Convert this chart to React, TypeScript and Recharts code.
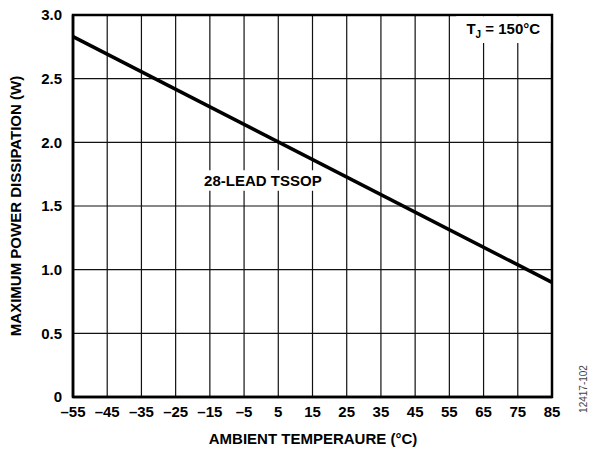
import { LineChart, Line, XAxis, YAxis, CartesianGrid, ReferenceArea } from "recharts";

// ambient temperature (°C) and max power dissipation (W)
const temps = [-55, 85];
const power = [2.83, 0.9];

const xTicks = [-55, -45, -35, -25, -15, -5, 5, 15, 25, 35, 45, 55, 65, 75, 85];
const yTicks = [0, 0.5, 1.0, 1.5, 2.0, 2.5, 3.0];

const data = temps.map((t, i) => ({ t, p: power[i] }));

const font = "'Liberation Sans', Arial, sans-serif";
const fs = 15;

const fmtX = (v: number) => (v < 0 ? "\u2013" + Math.abs(v) : String(v));
const fmtY = (v: number) => (v === 0 ? "0" : v.toFixed(1));

function YTitle() {
  return (
    <text
      transform="translate(17, 206) rotate(-90)"
      textAnchor="middle"
      dominantBaseline="middle"
      fontFamily={font}
      fontWeight="bold"
      fontSize={fs}
      fill="#000"
    >
      MAXIMUM POWER DISSIPATION (W)
    </text>
  );
}

function XTitle() {
  return (
    <g>
      <text
        x={313}
        y={444}
        textAnchor="middle"
        fontFamily={font}
        fontWeight="bold"
        fontSize={fs}
        fill="#000"
      >
        AMBIENT TEMPERAURE (°C)
      </text>
      <text
        transform="translate(587, 389) rotate(-90)"
        textAnchor="middle"
        fontFamily={font}
        fontSize={10}
        fill="#444"
      >
        12417-102
      </text>
    </g>
  );
}

function TjLabel(props: any) {
  const vb = props.viewBox || { x: 0, y: 0, width: 0, height: 0 };
  const cx = vb.x + vb.width / 2;
  const cy = vb.y + vb.height / 2 + 4;
  return (
    <text x={cx} y={cy} textAnchor="middle" fontFamily={font} fontWeight="bold" fontSize={fs} fill="#000">
      T<tspan fontSize={10} dy={4}>J</tspan>
      <tspan dy={-4}> = 150°C</tspan>
    </text>
  );
}

export default function App() {
  return (
    <div style={{ position: "absolute", left: 0, top: 0, background: "#fff" }}>
      <LineChart
        width={598}
        height={449}
        data={data}
        margin={{ top: 15, right: 46, bottom: 0, left: 0 }}
      >
        <CartesianGrid stroke="#111" strokeWidth={1.2} />
        <XAxis
          dataKey="t"
          type="number"
          domain={[-55, 85]}
          ticks={xTicks}
          interval={0}
          tickFormatter={fmtX}
          tickLine={false}
          tickSize={0}
          tickMargin={9}
          height={52}
          axisLine={{ stroke: "#000", strokeWidth: 2.5 }}
          tick={{ fill: "#000", fontFamily: font, fontWeight: "bold", fontSize: fs }}
          label={<XTitle />}
        />
        <YAxis
          type="number"
          domain={[0, 3]}
          ticks={yTicks}
          interval={0}
          tickFormatter={fmtY}
          tickLine={false}
          tickSize={0}
          tickMargin={11}
          width={73}
          axisLine={{ stroke: "#000", strokeWidth: 2.5 }}
          tick={{ fill: "#000", fontFamily: font, fontWeight: "bold", fontSize: fs }}
          label={<YTitle />}
        />
        <ReferenceArea
          x1={-55}
          x2={85}
          y1={0}
          y2={3}
          fill="none"
          stroke="#000"
          strokeWidth={2.5}
          ifOverflow="visible"
        />
        <ReferenceArea
          x1={-20}
          x2={21}
          y1={1.62}
          y2={1.78}
          fill="#fff"
          fillOpacity={1}
          stroke="none"
          ifOverflow="visible"
          label={{
            value: "28-LEAD TSSOP",
            position: "center",
            fill: "#000",
            fontFamily: font,
            fontWeight: "bold",
            fontSize: fs,
          }}
        />
        <ReferenceArea
          x1={57}
          x2={84.5}
          y1={2.78}
          y2={2.99}
          fill="#fff"
          fillOpacity={1}
          stroke="none"
          ifOverflow="visible"
          label={<TjLabel />}
        />
        <Line
          dataKey="p"
          stroke="#000"
          strokeWidth={3.5}
          dot={false}
          activeDot={false}
          isAnimationActive={false}
        />
      </LineChart>
    </div>
  );
}
